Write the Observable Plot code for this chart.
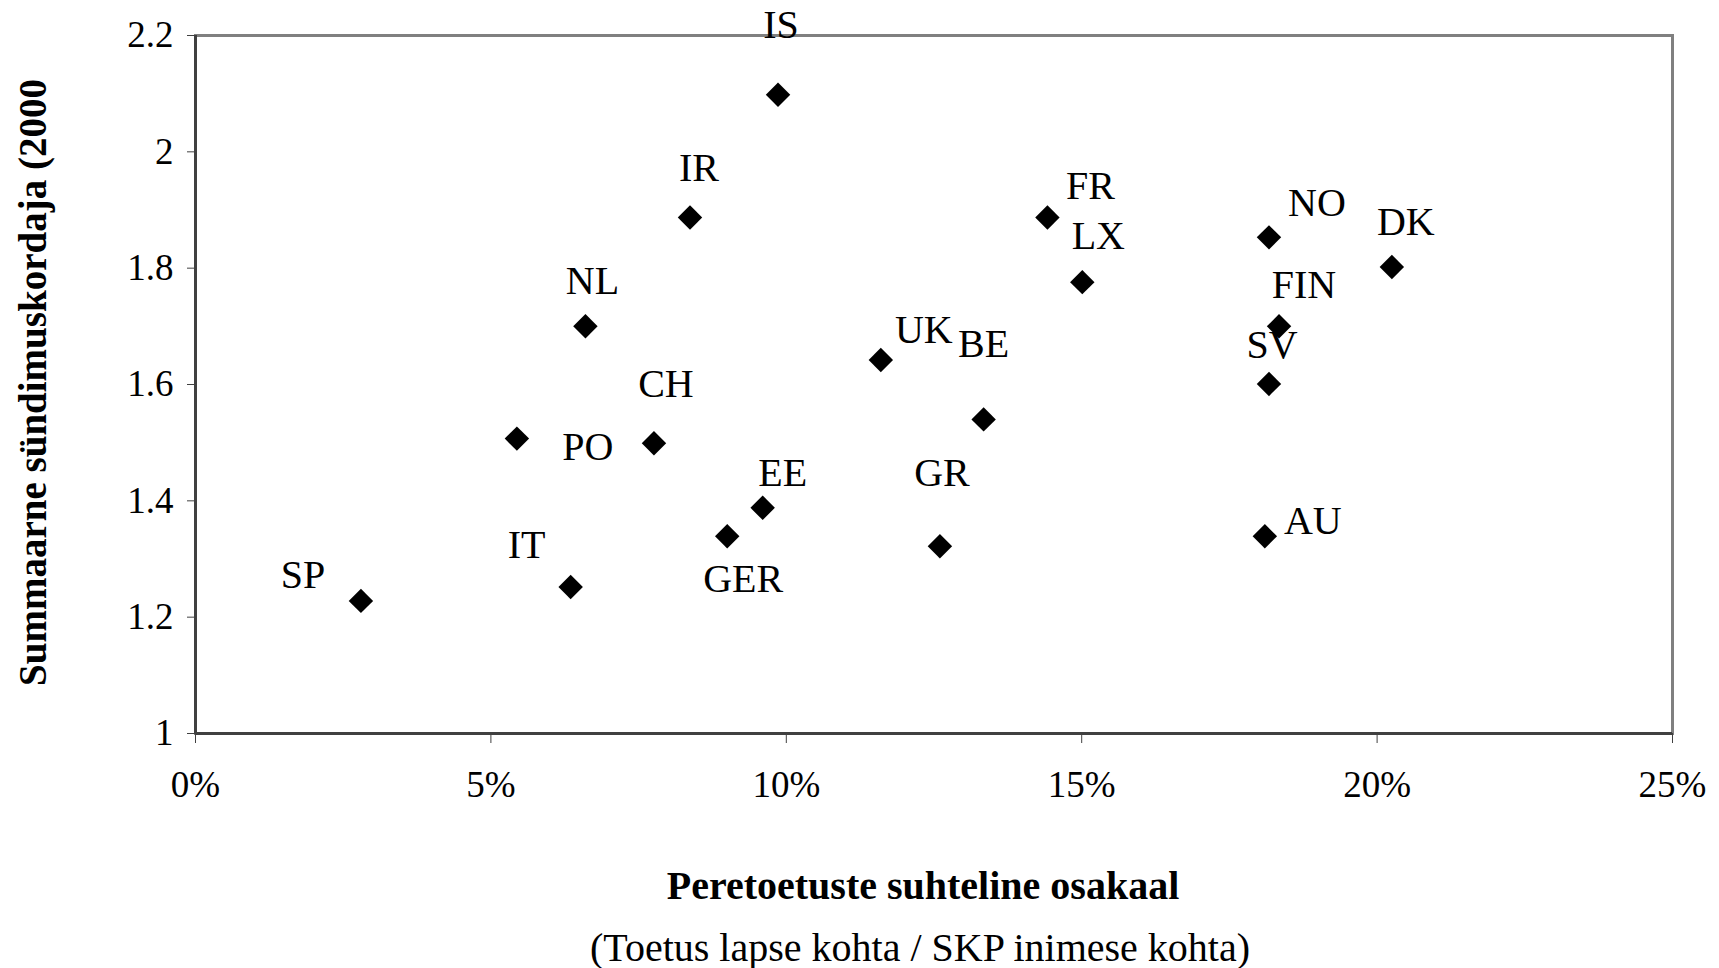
<!DOCTYPE html>
<html>
<head>
<meta charset="utf-8">
<script src="https://cdn.jsdelivr.net/npm/d3@7"></script>
<script src="https://cdn.jsdelivr.net/npm/@observablehq/plot@0.6"></script>
<style>
  html, body { margin: 0; padding: 0; background: #fff; }
  #chart svg { display: block; }
</style>
</head>
<body>
<div id="chart"></div>
<script>
// Data
const countries = ["SP","IT","PO","CH","NL","IR","IS","GER","EE","UK","GR","BE","FR","LX","NO","FIN","SV","AU","DK"];
const support   = [2.8, 6.35, 5.44, 7.76, 6.6, 8.37, 9.86, 9.0, 9.6, 11.6, 12.6, 13.34, 14.42, 15.01, 18.17, 18.34, 18.17, 18.1, 20.25]; // %
const fertility = [1.228, 1.252, 1.507, 1.499, 1.70, 1.887, 2.098, 1.339, 1.388, 1.642, 1.322, 1.54, 1.887, 1.776, 1.853, 1.70, 1.601, 1.339, 1.802];
const xTicks = [0, 5, 10, 15, 20, 25];
const xTickLabels = ["0%", "5%", "10%", "15%", "20%", "25%"];
const yTicks = [1, 1.2, 1.4, 1.6, 1.8, 2, 2.2];
const yTickLabels = ["1", "1.2", "1.4", "1.6", "1.8", "2", "2.2"];
const xTitle = "Peretoetuste suhteline osakaal";
const xSubtitle = "(Toetus lapse kohta / SKP inimese kohta)";
const yTitle = "Summaarne sündimuskordaja (2000";

// Label placement (annotation offsets in px, not data)
const labelOffset = {
  SP:[-58,-26], IT:[-44,-42], PO:[71,9], CH:[12,-59], NL:[7,-45], IR:[9,-49],
  IS:[3,-70], GER:[16,43], EE:[20,-35], UK:[43,-30], GR:[2,-73], BE:[0,-75],
  FR:[43,-31], LX:[16,-46], NO:[48,-34], FIN:[25,-41], SV:[3,-39], AU:[48,-15], DK:[14,-45]
};

const data = countries.map((c, i) => ({country: c, x: support[i], y: fertility[i]}));

const FONT = "'Liberation Serif', 'Times New Roman', serif";
const tickFs = 37;
const labelFs = 40;
const titleFs = 40;

const labelMarks = data.map(d => Plot.text([d], {
  x: "x", y: "y", text: "country",
  dx: labelOffset[d.country][0], dy: labelOffset[d.country][1],
  fontSize: labelFs, fill: "#000", textAnchor: "middle", lineAnchor: "middle"
}));

const chart = Plot.plot({
  width: 1719,
  height: 968,
  marginLeft: 195,
  marginRight: 47,
  marginTop: 35,
  marginBottom: 235,
  style: {fontFamily: FONT, fontSize: tickFs + "px", color: "#000", background: "#fff", overflow: "visible"},
  x: {domain: [0, 25]},
  y: {domain: [1, 2.2]},
  marks: [
    Plot.frame({stroke: "#808080", strokeWidth: 3}),
    Plot.ruleX([0], {stroke: "#404040", strokeWidth: 3}),
    Plot.ruleY([1], {stroke: "#404040", strokeWidth: 3}),
    Plot.axisX({ticks: xTicks, tickFormat: (d) => xTickLabels[xTicks.indexOf(d)], tickSize: 10, tickPadding: 27, fontSize: tickFs, label: null, stroke: "#404040"}),
    Plot.axisY({ticks: yTicks, tickFormat: (d) => yTickLabels[yTicks.findIndex(t => Math.abs(t - d) < 1e-9)], tickSize: 8, tickPadding: 14, fontSize: tickFs, label: null, stroke: "#404040"}),
    Plot.dot(data, {x: "x", y: "y", symbol: "diamond2", r: 11, fill: "#000", stroke: "none"}),
    ...labelMarks,
    Plot.text([xTitle], {frameAnchor: "bottom", dx: -11, dy: 153, fontWeight: "bold", fontSize: titleFs, textAnchor: "middle", lineAnchor: "middle", text: d => d}),
    Plot.text([xSubtitle], {frameAnchor: "bottom", dx: -14, dy: 215, fontSize: titleFs, textAnchor: "middle", lineAnchor: "middle", text: d => d}),
    Plot.text([yTitle], {frameAnchor: "left", dx: -162, dy: -2, rotate: -90, fontWeight: "bold", fontSize: 39, textAnchor: "middle", lineAnchor: "middle", text: d => d})
  ]
});
document.getElementById("chart").appendChild(chart);
</script>
</body>
</html>
